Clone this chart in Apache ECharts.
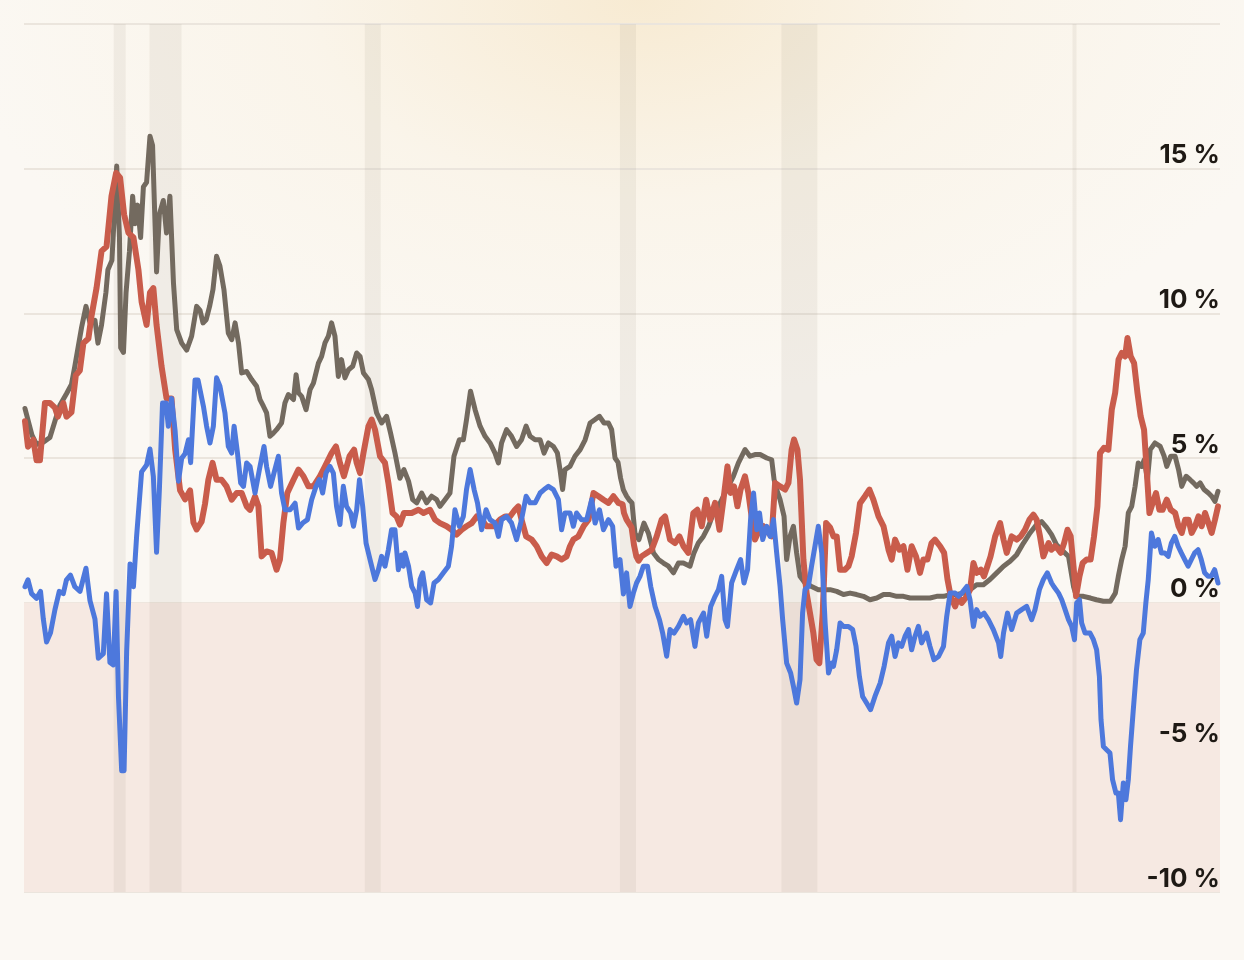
<!DOCTYPE html>
<html><head><meta charset="utf-8">
<script src="https://cdn.jsdelivr.net/npm/echarts@6/dist/echarts.min.js"></script>
<style>
html,body{margin:0;padding:0;width:1244px;height:960px;overflow:hidden;}
body{background:
  radial-gradient(ellipse 680px 400px at 640px 0px, rgba(246,229,197,0.7) 0%, rgba(248,237,215,0.32) 50%, rgba(251,248,243,0) 100%),
  #fbf8f3;}
#chart{width:1244px;height:960px;}
</style></head><body><div id="chart"></div>
<script>
// month offsets since April 1976, values in %
const twoYearYield = [[0.5,6.71],[4,5.79],[6.3,5.47],[9.7,5.55],[13,5.71],[15.5,6.27],[18,6.82],[21.3,7.22],[23.8,7.54],[25.5,8.17],[28.9,9.52],[31.1,10.24],[33.1,9.68],[35.6,9.76],[37.1,8.97],[38.9,9.6],[41.1,10.72],[42.1,11.51],[44.1,11.83],[45.2,13.26],[46.5,15.09],[47.9,12.62],[48.5,8.81],[49.9,8.65],[51.2,10.72],[52.9,12.15],[54.5,14.05],[55.7,13.1],[57,13.74],[58.5,12.62],[59.9,14.37],[61.5,14.53],[63.2,16.12],[64.5,15.8],[66.5,11.43],[67.9,13.42],[69.9,13.9],[71.5,12.78],[73.2,14.05],[75,11.03],[76.6,9.44],[79.1,8.97],[81.6,8.73],[84.1,9.21],[86.6,10.24],[88.3,10.1],[89.8,9.67],[91.4,9.78],[93.1,10.24],[94.8,10.82],[96.6,11.97],[98.3,11.63],[100.3,10.82],[102.5,9.32],[104.2,9.09],[105.9,9.67],[107.6,8.98],[109.2,7.94],[111.7,7.99],[114.2,7.71],[116.7,7.48],[118.4,7.02],[120.1,6.79],[121.7,6.56],[123.4,5.75],[125.1,5.86],[126.7,5.98],[129.2,6.21],[130.9,6.9],[132.6,7.19],[135.2,7.02],[136.5,7.88],[137.7,7.25],[139.3,7.13],[141.5,6.67],[143.5,7.36],[145.2,7.59],[147.7,8.28],[149.3,8.51],[151,8.98],[152.7,9.21],[154.3,9.67],[156,9.21],[157.7,7.82],[159.3,8.4],[161,7.77],[162.8,8.05],[164.9,8.17],[166.9,8.63],[168.6,8.51],[170.3,7.94],[172.8,7.71],[174.4,7.36],[176.9,6.56],[179.4,6.21],[181.9,6.44],[183.9,5.86],[186.1,5.17],[188.6,4.3],[190.6,4.6],[192.9,4.2],[195,3.56],[197,3.45],[199.5,3.79],[202,3.45],[204.5,3.68],[207,3.56],[208.7,3.33],[211.2,3.56],[213.7,3.79],[215.7,5.06],[218.4,5.63],[220.4,5.63],[222,6.33],[224,7.31],[226.3,6.67],[228.8,6.1],[231.3,5.75],[233.8,5.52],[236.3,5.17],[238,4.83],[239.6,5.52],[242.1,5.98],[244.6,5.75],[247.1,5.4],[249.6,5.63],[251.9,6.1],[253.9,5.75],[256.4,5.63],[258.9,5.63],[260.9,5.17],[263.1,5.52],[265.6,5.4],[267.6,5.17],[268.9,4.6],[270.2,3.91],[271.4,4.6],[273.9,4.71],[276.4,5.06],[279,5.29],[281.5,5.63],[284,6.21],[286.5,6.33],[288.7,6.44],[291,6.21],[293.2,6.21],[294.8,5.98],[296.5,5.0],[298,4.85],[299.3,4.3],[300.7,3.9],[302.3,3.68],[303.5,3.56],[305,3.45],[306.5,2.4],[308.5,2.18],[311,2.75],[313.2,2.41],[315.8,1.72],[318.3,1.49],[320.8,1.37],[323.3,1.26],[325.8,1.03],[328.3,1.37],[330.8,1.37],[334.1,1.26],[336.1,1.72],[338.3,2.06],[340.8,2.29],[343.4,2.64],[345.9,3.1],[348.4,3.33],[350.9,3.68],[353.4,4.02],[355.9,4.37],[358.4,4.83],[361.7,5.29],[364.2,5.06],[366.7,5.12],[369.3,5.12],[372.6,5.0],[375.1,4.94],[376.3,4.25],[377.6,3.91],[379.3,3.56],[381.3,2.98],[382.6,1.49],[384.3,2.29],[386,2.64],[387.6,1.72],[389.3,0.91],[391.8,0.68],[395.1,0.56],[398.5,0.45],[401.9,0.45],[404.4,0.45],[407.7,0.39],[411.1,0.28],[414.4,0.33],[417.7,0.28],[421.1,0.22],[424.4,0.1],[427.8,0.16],[431.2,0.28],[434.5,0.28],[437.8,0.22],[441.2,0.22],[444.5,0.16],[447.8,0.16],[451.2,0.16],[454.5,0.16],[457.9,0.22],[461.3,0.22],[464.6,0.28],[467.9,0.28],[471.3,0.33],[474.6,0.45],[477.9,0.62],[481.3,0.62],[484.6,0.8],[488,1.03],[491.4,1.26],[494.7,1.43],[498,1.66],[501.4,2.06],[504.7,2.41],[508,2.7],[510.5,2.8],[513,2.6],[515.5,2.35],[518,2.0],[520.5,1.83],[524,1.6],[526.5,0.56],[528,0.22],[531.5,0.22],[535,0.16],[538,0.1],[541.5,0.05],[545,0.05],[547.5,0.33],[549,0.91],[550.7,1.49],[552.4,1.95],[554,3.1],[555.7,3.33],[557.4,4.02],[559,4.83],[560.7,4.71],[562,4.94],[563.6,4.25],[565,5.29],[567.4,5.52],[570,5.4],[572,5.06],[573.3,4.71],[575.3,5.06],[577.5,5.06],[579.2,4.6],[580.8,4.02],[583,4.37],[585,4.25],[586.7,4.14],[588.3,4.02],[590,4.14],[592,3.91],[594.2,3.79],[595.8,3.68],[597.5,3.5],[599,3.85]];

const inflation = [[0.5,6.27],[2,5.39],[4.7,5.63],[6.3,4.92],[8,4.92],[10.5,6.9],[13,6.9],[15.5,6.74],[17,6.43],[19.7,6.9],[21.3,6.43],[23.8,6.58],[26,7.86],[28,8.02],[29.8,8.97],[32.3,9.13],[33.9,9.92],[36.4,10.88],[38.9,12.15],[41.4,12.31],[43.9,14.05],[46.2,14.85],[48.2,14.69],[50.2,13.42],[52.4,12.78],[54.9,12.62],[57.4,11.51],[59,10.4],[61.5,9.6],[63.2,10.72],[64.9,10.87],[66.5,9.6],[69,8.17],[71.5,7.06],[74,7.06],[75.8,5.31],[78.3,3.88],[80.8,3.57],[83.3,3.88],[85,2.77],[86.6,2.53],[89.1,2.8],[90.8,3.41],[92.5,4.25],[94.6,4.83],[96.6,4.25],[99.1,4.25],[101.6,4.02],[104.2,3.56],[106.7,3.79],[109.2,3.79],[111.7,3.33],[113.4,3.21],[115.9,3.67],[117.6,3.33],[119.2,1.6],[121.7,1.77],[124.2,1.72],[126.7,1.14],[128.4,1.49],[130.1,2.75],[132.1,3.79],[135.2,4.25],[137.7,4.6],[140.2,4.37],[142.7,4.02],[145.2,4.02],[148.5,4.37],[151,4.71],[154.3,5.17],[156.5,5.4],[158.5,4.83],[160.5,4.37],[163.3,5.06],[165.6,5.29],[166.9,4.83],[168.6,4.48],[170.3,5.17],[172.8,6.1],[174.4,6.33],[176.1,5.98],[178.6,5.06],[181.1,4.83],[182.8,4.14],[184.9,3.1],[186.9,2.98],[188.6,2.7],[190.6,3.1],[192.9,3.1],[194.5,3.1],[197.9,3.21],[200.4,3.1],[203.7,3.21],[206.2,2.87],[208.7,2.75],[212,2.64],[214.5,2.52],[217,2.35],[219.5,2.52],[222,2.64],[224.6,2.75],[227.1,2.98],[229.6,2.87],[232.1,2.64],[235.5,2.64],[238.8,2.87],[241.3,2.98],[243.8,2.98],[246.3,3.21],[248,3.33],[249.6,2.87],[251.9,2.29],[254.7,2.18],[257.2,1.95],[259.7,1.6],[262.2,1.37],[264.7,1.66],[267.2,1.6],[269.7,1.49],[272.2,1.6],[273.9,1.95],[275.6,2.18],[278.1,2.29],[280.7,2.64],[283.2,2.87],[285.7,3.79],[288.2,3.68],[290.7,3.56],[293.2,3.45],[295.7,3.68],[298.2,3.45],[300.3,3.4],[301,3.1],[302.3,2.87],[304.8,2.6],[306,2.0],[307.2,1.6],[308.3,1.45],[309.8,1.6],[312.4,1.72],[314.9,1.83],[317.4,2.29],[319.9,2.87],[321.6,2.98],[324.1,2.18],[326.6,2.06],[328.8,2.29],[330.8,1.95],[333.3,1.72],[335.8,3.1],[337.8,3.21],[340,2.64],[342.2,3.56],[344.2,2.87],[346.7,3.45],[348.9,2.52],[350.9,3.56],[352.9,4.71],[354.5,3.79],[356.2,4.02],[357.9,3.33],[359.5,3.91],[361.7,4.37],[363.4,3.79],[365,2.98],[366.7,2.18],[368.9,2.52],[370.9,2.64],[373.5,2.41],[375.1,2.29],[376.8,4.14],[379.3,4.02],[381.8,3.91],[383.5,4.14],[385.1,5.29],[386.3,5.64],[388,5.29],[389.3,4.25],[391,1.49],[392.6,0.33],[394.3,-0.36],[396,-1.05],[397.6,-1.97],[399,-2.09],[400.7,-0.36],[402.4,2.75],[404.4,2.6],[406.1,2.29],[407.7,2.29],[409.4,1.14],[411.9,1.14],[413.6,1.26],[415.2,1.6],[417.4,2.41],[419.4,3.44],[421.9,3.68],[424.1,3.91],[426.1,3.56],[428.7,2.98],[431.2,2.64],[433.7,1.83],[435.3,1.49],[437,2.18],[439.2,1.83],[441.2,1.95],[443.2,1.14],[445.3,1.95],[447.5,1.6],[449.5,1.03],[451.2,1.49],[453.2,1.49],[455.3,2.06],[457,2.18],[459.6,1.95],[461.6,1.72],[463.3,0.8],[464.9,0.22],[467.1,-0.13],[468.8,0.22],[470.4,-0.01],[473,0.22],[474.6,0.45],[476.3,1.37],[477.9,1.03],[480,1.14],[481.6,0.91],[483.3,1.26],[484.9,1.6],[487.2,2.29],[489.7,2.75],[491.4,2.18],[493,1.72],[495.5,2.29],[498,2.18],[500,2.29],[502.2,2.52],[504.4,2.87],[506.4,3.04],[508,2.87],[509.7,2.29],[511.4,1.6],[514,2.06],[515.5,1.83],[517.3,1.95],[519,1.83],[520.1,1.72],[521.8,2.06],[523.5,2.52],[525.1,2.29],[526.5,1.26],[527.8,0.22],[529.5,0.91],[531.1,1.37],[533.1,1.49],[535.1,1.49],[536.8,2.29],[538.5,3.33],[539.8,5.17],[541.8,5.35],[544,5.29],[545.7,6.67],[547.4,7.25],[549.1,8.4],[550.7,8.63],[552.4,8.51],[553.6,9.15],[555.2,8.51],[556.9,8.28],[558.6,7.25],[560.2,6.44],[561.9,5.98],[563.2,4.6],[564.6,3.1],[566.2,3.44],[567.9,3.79],[569.6,3.21],[571.2,3.21],[573.3,3.56],[575.3,3.21],[577.5,3.1],[579.2,2.64],[580.8,2.41],[582.5,2.87],[584.2,2.87],[585.8,2.41],[587.5,2.64],[589.2,2.98],[590.8,2.64],[592.5,3.1],[594.2,2.75],[595.8,2.41],[597.5,2.87],[599,3.33]];

const realYield = [[0.5,0.55],[2,0.79],[3.8,0.31],[6.3,0.15],[8.3,0.39],[9.7,-0.57],[11.3,-1.36],[13.3,-1.04],[15.5,-0.25],[17.7,0.39],[19.7,0.31],[21.3,0.79],[23.3,0.95],[25.5,0.55],[28.1,0.39],[31.1,1.19],[33.1,0.07],[35.6,-0.57],[37.3,-1.92],[39.8,-1.76],[41.4,0.31],[43.1,-2.07],[44.8,-2.15],[46.2,0.39],[47.4,-3.27],[49,-5.81],[50.2,-5.81],[51.5,-1.68],[53.2,1.34],[54.9,0.55],[56.5,2.3],[59,4.52],[61.5,4.76],[63.2,5.31],[64.9,4.36],[66.5,1.74],[67.9,3.88],[69.5,6.9],[71.2,6.9],[72.4,6.1],[74,7.06],[75.8,5.95],[77.5,4.2],[79.1,4.99],[80.8,5.15],[82.5,5.63],[83.6,4.84],[85.8,7.7],[87.3,7.7],[88.3,7.75],[90,6.79],[91.6,6.1],[93.3,5.52],[95,6.1],[96.6,7.77],[98.3,7.48],[100.8,6.56],[102.5,5.4],[104.2,5.17],[105.4,6.1],[107.1,5.17],[108.7,4.14],[110.1,4.02],[111.7,4.83],[113.4,4.71],[115.9,3.79],[118.1,4.6],[120.4,5.4],[121.7,4.71],[123.7,4.02],[125.4,4.48],[127.6,5.06],[129.2,3.79],[130.9,3.21],[133.5,3.21],[136,3.44],[137.7,2.58],[139.8,2.75],[142.2,2.87],[144.3,3.56],[146.5,4.02],[148.2,4.25],[149.8,3.79],[151.5,4.48],[153.5,4.71],[155.2,4.48],[156.8,3.33],[158.5,2.7],[160.2,4.02],[161.8,3.33],[163.9,3.1],[165.3,2.64],[166.9,3.21],[168.3,4.25],[169.9,3.33],[171.6,2.06],[173.6,1.49],[176.1,0.8],[177.8,1.14],[179.4,1.6],[181.1,1.26],[182.8,1.83],[184.4,2.52],[186.1,2.52],[187.8,1.14],[189.4,1.65],[190.3,1.26],[191.1,1.72],[192.9,1.26],[194.5,0.56],[196.2,0.33],[197.4,-0.13],[198.7,0.8],[200,1.03],[202,0.1],[204,-0.01],[205.7,0.68],[207.9,0.8],[210.4,1.03],[212.9,1.26],[214.5,1.95],[216.2,3.21],[218.4,2.64],[220.4,2.98],[222,3.91],[223.8,4.6],[225.8,3.91],[227.5,3.45],[229.6,2.52],[231.8,3.21],[233.8,2.87],[236.3,2.75],[238,2.29],[239.6,2.87],[242.1,2.98],[244.6,2.75],[247.1,2.18],[249.6,2.87],[251.9,3.68],[253.9,3.45],[256.4,3.45],[258.9,3.79],[260.9,3.91],[263.1,4.02],[265.6,3.91],[268.1,3.56],[269.7,2.52],[271.4,3.1],[273.9,3.1],[275.6,2.64],[277.2,3.1],[279.7,2.87],[282.3,2.87],[284.8,3.56],[286.5,2.75],[288.7,3.21],[290.7,2.52],[293.2,2.87],[295.3,2.64],[297,1.26],[299,1.49],[300.7,0.3],[302.3,1.03],[304,-0.13],[305.7,0.33],[307.3,0.68],[309,0.91],[310.7,1.26],[312.8,1.26],[314.4,0.56],[316.6,-0.13],[318.8,-0.59],[320.4,-1.05],[322.4,-1.85],[324.1,-0.93],[326.1,-1.05],[328.3,-0.82],[330.8,-0.47],[332.4,-0.7],[334.4,-0.59],[336.6,-1.51],[338.3,-0.7],[340.9,-0.36],[342.5,-1.16],[344.5,-0.13],[346.7,0.22],[348.4,0.45],[350,0.91],[351.7,-0.59],[352.9,-0.82],[355,0.68],[357.5,1.14],[359.5,1.49],[361.2,0.68],[363,1.14],[364.5,2.87],[366,3.79],[367.6,2.52],[369,3.1],[370.6,2.18],[372.6,2.64],[374.3,2.29],[376,2.87],[377.6,1.72],[379.3,0.56],[380.6,-0.59],[382.6,-2.09],[384.6,-2.43],[386,-2.89],[387.6,-3.47],[389.3,-2.66],[390.6,-0.36],[391.8,0.45],[393.5,0.56],[395.1,1.26],[396.8,1.95],[398.5,2.64],[400.2,1.72],[401.9,-0.7],[403.6,-2.43],[405.2,-2.09],[406.1,-2.2],[407.7,-1.63],[409.4,-0.7],[411.1,-0.82],[413.6,-0.82],[415.7,-0.93],[417.4,-1.51],[419.1,-2.55],[420.7,-3.24],[422.7,-3.47],[424.7,-3.7],[426.9,-3.24],[429.5,-2.78],[431.5,-2.2],[433.7,-1.39],[435.3,-1.16],[437,-1.86],[438.7,-1.39],[440.3,-1.51],[442,-1.16],[443.7,-0.93],[445.3,-1.63],[447,-1.16],[448.7,-0.82],[450.3,-1.39],[452.8,-1.05],[454.5,-1.51],[456.5,-1.97],[458.8,-1.86],[461.3,-1.51],[462.9,-0.47],[464.6,0.33],[467.1,0.33],[468.8,0.22],[470.4,0.33],[473,0.56],[474.6,0.1],[476.3,-0.82],[477.9,-0.24],[479.6,-0.47],[481.6,-0.36],[483.8,-0.59],[486.3,-0.93],[488.9,-1.39],[490,-1.86],[491.4,-1.05],[493.4,-0.36],[495.5,-0.93],[498,-0.36],[500.5,-0.24],[503,-0.13],[505.5,-0.59],[507.2,-0.24],[509.4,0.45],[511.4,0.8],[513.4,1.03],[515.5,0.68],[516.6,0.56],[519,0.33],[520.6,0.1],[522.3,-0.24],[524,-0.59],[525.6,-0.82],[527,-1.28],[528.1,-0.01],[529.5,0.1],[530.6,-0.7],[532.3,-1.05],[534.8,-1.05],[536.5,-1.28],[538.1,-1.63],[539.5,-2.55],[540.3,-4.04],[541.5,-4.97],[543.1,-5.08],[544.8,-5.2],[546.1,-6.12],[547.8,-6.58],[549,-6.58],[550.1,-7.5],[551.5,-6.23],[552.8,-6.81],[554,-6.12],[555.1,-4.97],[556.5,-3.7],[558.1,-2.32],[559.8,-1.28],[561.5,-1.05],[562.8,-0.01],[564,0.79],[565.6,2.41],[567.3,1.95],[569,2.18],[570.6,1.72],[572.3,1.72],[574,1.6],[575.6,2.06],[577.3,2.29],[579,1.95],[580.6,1.72],[582.3,1.49],[584,1.26],[585.6,1.49],[587.3,1.72],[589,1.83],[590.6,1.49],[592.3,1.03],[594,0.91],[595.6,0.91],[597.3,1.14],[599,0.68]];

const recessions = [['1980-01','1980-07'],['1981-07','1982-11'],['1990-07','1991-03'],['2001-03','2001-11'],['2007-12','2009-06'],['2020-02','2020-04']];
const yTicks = { min: -10, max: 20, step: 5 };

const START = Date.UTC(1976, 3, 1);
const MONTH = 365.25 / 12 * 86400000;
const toTime = m => START + m * MONTH;
const ymToTime = s => { const [y, m] = s.split('-').map(Number); return Date.UTC(y, m - 1, 1); };
const toSeries = arr => arr.map(([m, v]) => [toTime(m), v]);

const chart = echarts.init(document.getElementById('chart'), null, { renderer: 'canvas' });
const baseY = { type: 'value', min: yTicks.min, max: yTicks.max, interval: yTicks.step };
const lineCommon = { type: 'line', showSymbol: false, symbol: 'none', animation: false, silent: true, smooth: false };

chart.setOption({
  animation: false,
  backgroundColor: 'transparent',
  grid: { left: 24, right: 24, top: 24, bottom: 68, containLabel: false },
  xAxis: {
    type: 'time', min: START, max: toTime(600),
    axisLine: { show: false }, axisTick: { show: false }, axisLabel: { show: false }, splitLine: { show: false }
  },
  yAxis: [
    Object.assign({}, baseY, {
      position: 'left', z: 0,
      axisLine: { show: false }, axisTick: { show: false }, axisLabel: { show: false },
      splitLine: { show: true, lineStyle: { color: '#ebe5dd', width: 2 } }
    }),
    Object.assign({}, baseY, {
      position: 'right', z: 10,
      axisLine: { show: false }, axisTick: { show: false }, splitLine: { show: false },
      axisLabel: {
        inside: true, margin: 0, showMaxLabel: false,
        formatter: v => v + ' %',
        color: '#1e1914', fontFamily: 'Inter', fontWeight: 700, fontSize: 26,
        verticalAlign: 'bottom', lineHeight: 26
      }
    })
  ],
  series: [
    Object.assign({}, lineCommon, {
      name: 'areas', data: [], z: 1,
      markArea: {
        silent: true,
        data: [[{ yAxis: -10, itemStyle: { color: '#f6e9e2' } }, { yAxis: 0 }]]
          .concat(recessions.map(([a, b]) => [{ xAxis: ymToTime(a), itemStyle: { color: 'rgba(125,112,95,0.085)' } }, { xAxis: ymToTime(b) }]))
      }
    }),
    Object.assign({}, lineCommon, {
      name: '2-year yield', data: toSeries(twoYearYield), z: 3,
      lineStyle: { color: '#736a5f', width: 5, join: 'round', cap: 'round' }
    }),
    Object.assign({}, lineCommon, {
      name: 'Inflation', data: toSeries(inflation), z: 4,
      lineStyle: { color: '#c95c4b', width: 6, join: 'round', cap: 'round' }
    }),
    Object.assign({}, lineCommon, {
      name: 'Real yield', data: toSeries(realYield), z: 5,
      lineStyle: { color: '#4d78dc', width: 5, join: 'round', cap: 'round' }
    })
  ]
});
</script></body></html>
